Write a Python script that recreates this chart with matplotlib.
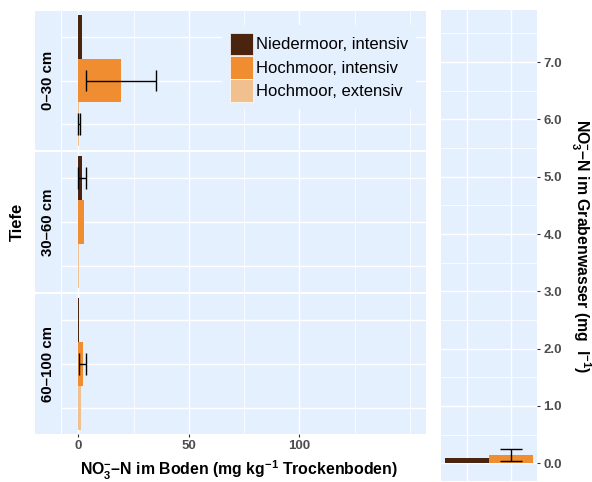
import matplotlib

matplotlib.use("Agg")

import matplotlib.pyplot as plt
import numpy as np
from matplotlib.patches import Patch

plt.rcParams["font.family"] = ["Liberation Sans", "DejaVu Sans"]
plt.rcParams["mathtext.fontset"] = "custom"
plt.rcParams["mathtext.rm"] = "Liberation Sans"
plt.rcParams["mathtext.bf"] = "Liberation Sans:bold"

depths = ["0–30 cm", "30–60 cm", "60–100 cm"]
types = ["Niedermoor, intensiv", "Hochmoor, intensiv", "Hochmoor, extensiv"]
colors = ["#4B2410", "#F08D30", "#F1C08F"]

# soil NO3-N per depth (rows) and type (cols)
soil_mean = [
    [1.8, 19.3, 0.3],
    [1.7, 2.4, 0.3],
    [0.4, 2.0, 1.2],
]
soil_err = [
    [np.nan, 15.7, 0.4],
    [1.8, np.nan, np.nan],
    [np.nan, 1.6, np.nan],
]

# ditch water NO3-N
water_types = ["Niedermoor, intensiv", "Hochmoor, intensiv"]
water_mean = [0.10, 0.15]
water_err = [np.nan, 0.105]

W, H = 592, 482
BG = "#E5F0FF"
TICKC = "#4D4D4D"

fig = plt.figure(figsize=(W / 100, H / 100), dpi=100)


def px_axes(x0, y0, x1, y1):
    return fig.add_axes([x0 / W, 1 - y1 / H, (x1 - x0) / W, (y1 - y0) / H])


def style(ax):
    ax.set_facecolor(BG)
    for s in ax.spines.values():
        s.set_visible(False)
    ax.set_axisbelow(True)


facet_y = [(11, 150), (152, 292), (294, 434)]
xmin, xmax = -7.4, 157.3
cats = np.arange(1, 4)

for i, (y0, y1) in enumerate(facet_y):
    ax = px_axes(62, y0, 426, y1)
    style(ax)
    ax.set_xlim(xmin, xmax)
    ax.set_ylim(3.6, 0.4)
    ax.set_xticks([0, 50, 100])
    ax.set_xticks([25, 75, 125, 150], minor=True)
    ax.set_yticks(cats)
    ax.grid(True, which="major", color="white", linewidth=1.0)
    ax.grid(True, which="minor", axis="x", color="white", linewidth=0.5)
    ax.tick_params(axis="y", which="both", left=False, labelleft=False)
    ax.tick_params(axis="x", which="minor", bottom=False)
    if i == 2:
        ax.tick_params(axis="x", which="major", length=2.5, width=0.8, color="#333333",
                       pad=2, labelsize=9.5, labelcolor=TICKC)
        for lab in ax.get_xticklabels():
            lab.set_fontweight("bold")
    else:
        ax.tick_params(axis="x", which="major", bottom=False, labelbottom=False)

    ax.barh(cats, soil_mean[i], height=1.0, color=colors, left=0)
    for j in range(3):
        e = soil_err[i][j]
        if np.isnan(e):
            continue
        m = soil_mean[i][j]
        ax.hlines(cats[j], m - e, m + e, color="black", linewidth=1.0)
        ax.vlines([m - e, m + e], cats[j] - 0.25, cats[j] + 0.25, color="black", linewidth=1.0)

    sax = px_axes(35, y0, 61, y1)
    sax.set_facecolor(BG)
    for s in sax.spines.values():
        s.set_visible(False)
    sax.set_xticks([])
    sax.set_yticks([])
    sax.text(0.5, 0.5, depths[i], rotation=90, ha="center", va="center",
             fontsize=10.8, fontweight="bold", transform=sax.transAxes)

    if i == 0:
        handles = [Patch(facecolor=c, edgecolor="white", linewidth=0.5, label=t)
                   for c, t in zip(colors, types)]
        leg = fig.legend(handles=handles, loc="upper left",
                         bbox_to_anchor=(222 / W, 1 - 25 / H), borderaxespad=0,
                         fontsize=12, handlelength=1.4, handleheight=1.74,
                         handletextpad=0.2, labelspacing=0.02, borderpad=0.45,
                         frameon=True, fancybox=False)
        leg.get_frame().set_facecolor(BG)
        leg.get_frame().set_edgecolor("none")
        leg.get_frame().set_alpha(1)

# ditch water panel
rax = px_axes(441, 10, 537, 481)
style(rax)
wx = np.arange(1, 3)
rax.set_xlim(0.4, 2.6)
rax.set_ylim(-0.31, 7.91)
rax.set_xticks(wx)
rax.set_yticks(np.arange(0, 8, 1.0))
rax.set_yticks(np.arange(0.5, 8, 1.0), minor=True)
rax.grid(True, which="major", color="white", linewidth=1.0)
rax.grid(True, which="minor", axis="y", color="white", linewidth=0.5)
rax.tick_params(axis="x", which="both", bottom=False, labelbottom=False)
rax.yaxis.tick_right()
rax.tick_params(axis="y", which="minor", right=False)
rax.tick_params(axis="y", which="major", length=2.5, width=0.8, color="#333333",
                pad=2, labelsize=9.5, labelcolor=TICKC)
rax.set_yticklabels([f"{v:.1f}" for v in np.arange(0, 8, 1.0)], fontweight="bold")
rax.bar(wx, water_mean, width=1.0, color=colors[:2])
for j in range(2):
    e = water_err[j]
    if np.isnan(e):
        continue
    m = water_mean[j]
    rax.vlines(wx[j], m - e, m + e, color="black", linewidth=1.0)
    rax.hlines([m - e, m + e], wx[j] - 0.25, wx[j] + 0.25, color="black", linewidth=1.0)

fig.text(239 / W, 1 - 470 / H,
         r"NO$_\mathbf{3}^\mathbf{-}$–N im Boden (mg kg$^\mathbf{-1}$ Trockenboden)",
         ha="center", va="center", fontsize=11.4, fontweight="bold")
fig.text(17 / W, 1 - 222 / H, "Tiefe", rotation=90, ha="center", va="center",
         fontsize=12, fontweight="bold")
fig.text(581 / W, 1 - 246 / H,
         r"NO$_\mathbf{3}^\mathbf{-}$–N im Grabenwasser (mg  l$^\mathbf{-1}$)",
         rotation=270, ha="center", va="center", fontsize=11.4, fontweight="bold")

fig.savefig("out.png", dpi=100)
